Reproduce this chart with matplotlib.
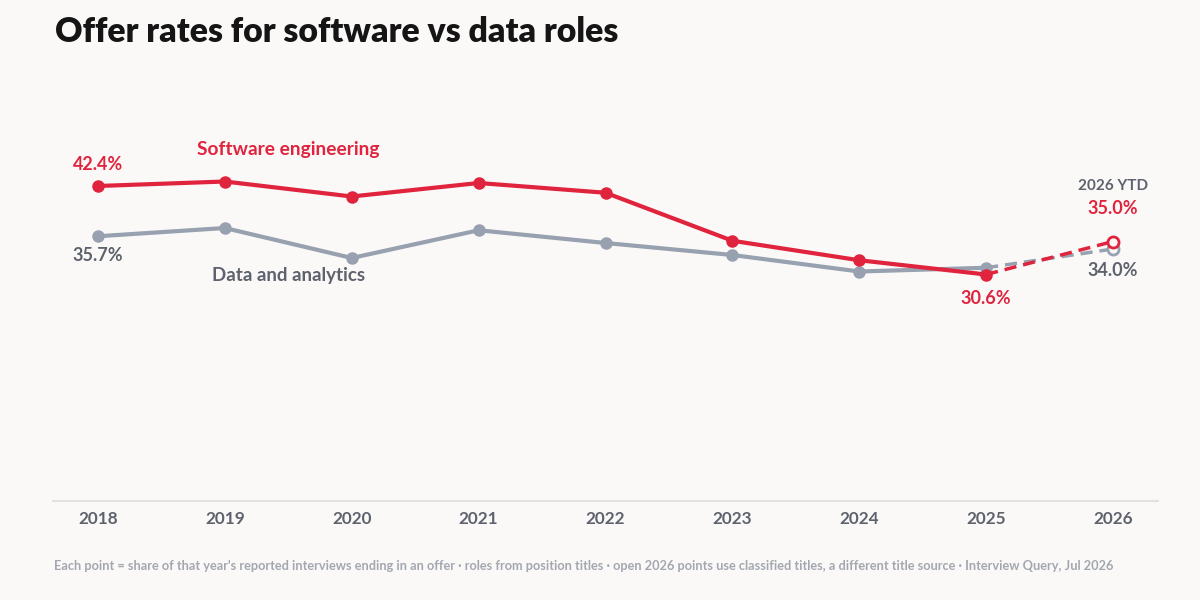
import matplotlib
matplotlib.use("Agg")
import matplotlib.pyplot as plt

years = ["2018", "2019", "2020", "2021", "2022", "2023", "2024", "2025", "2026"]
software = [42.4, 43.0, 41.0, 42.8, 41.5, 35.1, 32.5, 30.6, 35.0]
data_analytics = [35.7, 36.8, 32.8, 36.5, 34.8, 33.2, 31.0, 31.5, 34.0]

RED = "#e0243e"
GRAY = "#98a1b0"
DARKGRAY = "#5d626d"
FOOT = "#a3a7b0"
BG = "#fbf9f8"
FONT = ["Lato", "DejaVu Sans"]

plt.rcParams["font.family"] = FONT

fig = plt.figure(figsize=(12, 6), dpi=100, facecolor=BG)
ax = fig.add_axes([53 / 1200, 1 - 501 / 600, (1158 - 53) / 1200, 412.5 / 600])
ax.set_facecolor(BG)

x = list(range(len(years)))
n = len(years) - 1  # last point is YTD (open marker, dashed)

# Data & analytics
ax.plot(x[:n], data_analytics[:n], color=GRAY, lw=3, marker="o", ms=8,
        solid_capstyle="round", zorder=2)
ax.plot(x[n - 1:], data_analytics[n - 1:], color=GRAY, lw=2.5, ls=(0, (3.5, 2)), zorder=2)
ax.plot(x[n], data_analytics[n], marker="o", ms=8, mfc=BG, mec=GRAY, mew=2, zorder=3)

# Software engineering
ax.plot(x[:n], software[:n], color=RED, lw=3, marker="o", ms=8,
        solid_capstyle="round", zorder=4)
ax.plot(x[n - 1:], software[n - 1:], color=RED, lw=2.5, ls=(0, (3.5, 2)), zorder=4)
ax.plot(x[n], software[n], marker="o", ms=8, mfc=BG, mec=RED, mew=2, zorder=5)

ax.set_xlim(-0.355, 8.355)
ax.set_ylim(0.4, 55.4)
ax.set_xticks(x)
ax.set_xticklabels(years, fontsize=12.3, fontweight="bold", color=DARKGRAY)
ax.tick_params(axis="x", length=0, pad=7)
ax.set_yticks([])
for s in ["top", "right", "left"]:
    ax.spines[s].set_visible(False)
ax.spines["bottom"].set_color("#e2e1e1")
ax.spines["bottom"].set_linewidth(1.5)

def lab(xi, yi, txt, dy, color, size=13):
    ax.annotate(txt, (xi, yi), xytext=(0, dy), textcoords="offset pixels",
                ha="center", va="center", fontsize=size, fontweight="bold", color=color)

lab(x[0], software[0], f"{software[0]:.1f}%", 22, RED)
lab(x[0], data_analytics[0], f"{data_analytics[0]:.1f}%", -19, DARKGRAY)
lab(x[n - 1], software[n - 1], f"{software[n - 1]:.1f}%", -24, RED)
lab(x[n], software[n], "2026 YTD", 55, DARKGRAY, 11)
lab(x[n], software[n], f"{software[n]:.1f}%", 33, RED)
lab(x[n], data_analytics[n], f"{data_analytics[n]:.1f}%", -22, DARKGRAY)

ax.text(1.5, 47.2, "Software engineering", ha="center", va="center",
        fontsize=13.8, fontweight="bold", color=RED)
ax.text(1.5, 30.4, "Data and analytics", ha="center", va="center",
        fontsize=13.5, fontweight="bold", color=DARKGRAY)

fig.text(55 / 1200, 1 - 32 / 600, "Offer rates for software vs data roles",
         ha="left", va="center", fontsize=24.3, fontweight="heavy", color="#151515")
fig.text(54 / 1200, 1 - 566 / 600,
         "Each point = share of that year's reported interviews ending in an offer · roles from position titles · "
         "open 2026 points use classified titles, a different title source · Interview Query, Jul 2026",
         ha="left", va="center", fontsize=9.2, fontweight="bold", color=FOOT)

fig.savefig("out.png", dpi=100, facecolor=BG)
